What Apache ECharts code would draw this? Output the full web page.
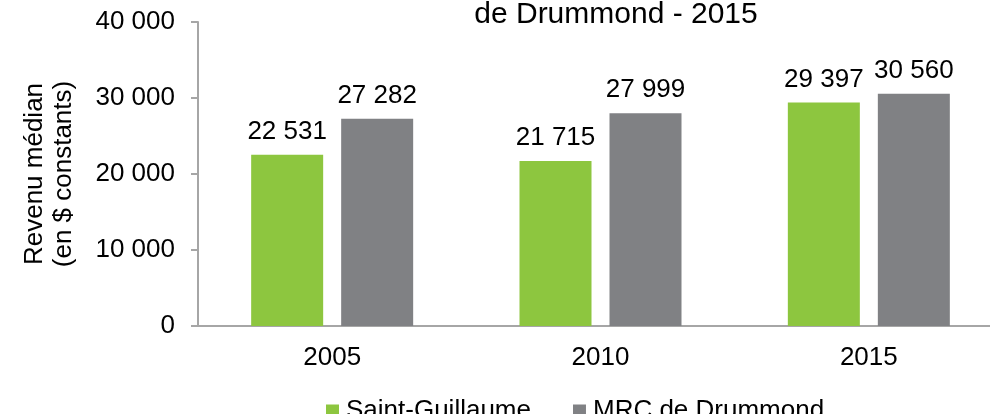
<!DOCTYPE html>
<html>
<head>
<meta charset="utf-8">
<script src="https://cdn.jsdelivr.net/npm/echarts@6/dist/echarts.min.js"></script>
<style>
  html, body { margin: 0; padding: 0; background: #fff; }
  #main { width: 990px; height: 414px; }
</style>
</head>
<body>
<div id="main"></div>
<script>
var years = ['2005', '2010', '2015'];
var saintGuillaume = [22531, 21715, 29397];
var mrcDrummond = [27282, 27999, 30560];
var seriesNames = ['Saint-Guillaume', 'MRC de Drummond'];

// 12345 -> "12 345"
function fmt(v) {
	return String(v).replace(/\B(?=(\d{3})+(?!\d))/g, ' ');
}

var myChart = echarts.init(document.getElementById('main'));
var font = 'Liberation Sans, Arial, sans-serif';

var option = {
	animation: false,
	textStyle: { fontFamily: font, color: '#000' },
	title: {
		text: 'de Drummond - 2015',
		left: 611,
		textAlign: 'center',
		top: -5,
		textStyle: { fontFamily: font, fontSize: 30, fontWeight: 'normal', color: '#000' }
	},
	legend: {
		data: seriesNames,
		left: 321,
		top: 393,
		icon: 'rect',
		itemWidth: 13,
		itemHeight: 13,
		itemGap: 42,
		textStyle: { fontFamily: font, fontSize: 26, color: '#000', padding: [0, 0, 0, 2] }
	},
	grid: {
		left: 198,
		top: 22,
		width: 805,
		height: 304,
		containLabel: false,
		outerBoundsMode: 'none'
	},
	xAxis: {
		type: 'category',
		data: years,
		axisLine: { lineStyle: { color: '#a6a6a6', width: 2 } },
		axisTick: { show: false },
		axisLabel: { fontFamily: font, fontSize: 26, color: '#000', margin: 19 }
	},
	yAxis: {
		type: 'value',
		min: 0,
		max: 40000,
		interval: 10000,
		name: 'Revenu médian\n(en $ constants)',
		nameLocation: 'middle',
		nameRotate: 90,
		nameGap: 120,
		nameTextStyle: { fontFamily: font, fontSize: 26, color: '#000', lineHeight: 29 },
		splitLine: { show: false },
		axisLine: { show: true, lineStyle: { color: '#a6a6a6', width: 2 } },
		axisTick: { show: true, length: 7, lineStyle: { color: '#a6a6a6', width: 2 } },
		axisLabel: {
			fontFamily: font, fontSize: 26, color: '#000', margin: 23,
			formatter: function (v) { return fmt(v); }
		}
	},
	series: [
		{
			name: seriesNames[0],
			type: 'bar',
			data: saintGuillaume,
			barWidth: 72,
			barGap: '25%',
			itemStyle: { color: '#8dc63f' },
			label: {
				show: true, position: 'top', distance: 10,
				fontFamily: font, fontSize: 26, color: '#000',
				formatter: function (p) { return fmt(p.value); }
			}
		},
		{
			name: seriesNames[1],
			type: 'bar',
			data: mrcDrummond,
			barWidth: 72,
			barGap: '25%',
			itemStyle: { color: '#808184' },
			label: {
				show: true, position: 'top', distance: 10,
				fontFamily: font, fontSize: 26, color: '#000',
				formatter: function (p) { return fmt(p.value); }
			}
		}
	]
};

myChart.setOption(option);
</script>
</body>
</html>
